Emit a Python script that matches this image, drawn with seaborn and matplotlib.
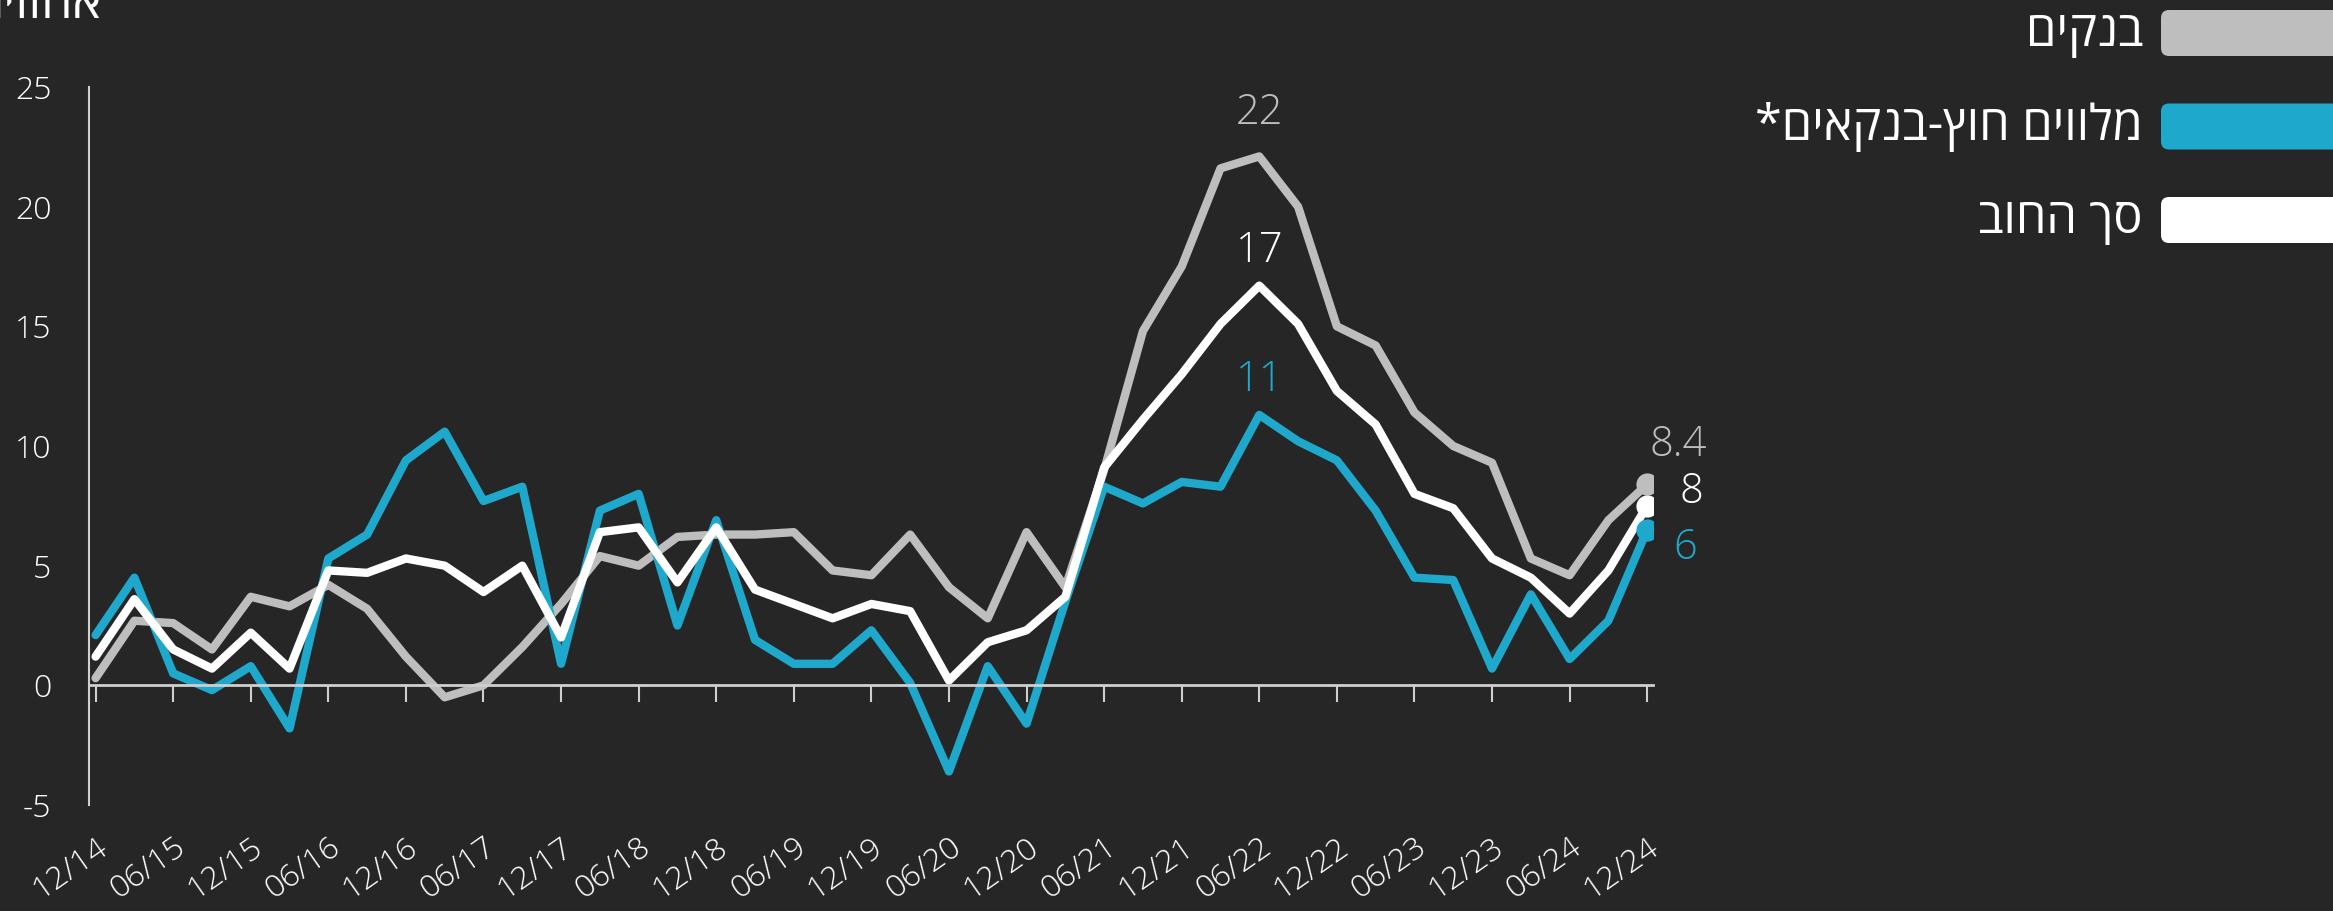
import matplotlib.pyplot as plt
import seaborn as sns
import pandas as pd
from matplotlib.patches import FancyBboxPatch
from matplotlib.transforms import IdentityTransform

# quarterly growth, percent, 12/14 .. 12/24
quarters = ["12/14", "03/15", "06/15", "09/15", "12/15", "03/16", "06/16", "09/16",
            "12/16", "03/17", "06/17", "09/17", "12/17", "03/18", "06/18", "09/18",
            "12/18", "03/19", "06/19", "09/19", "12/19", "03/20", "06/20", "09/20",
            "12/20", "03/21", "06/21", "09/21", "12/21", "03/22", "06/22", "09/22",
            "12/22", "03/23", "06/23", "09/23", "12/23", "03/24", "06/24", "09/24",
            "12/24"]

banks = [0.3, 2.7, 2.6, 1.5, 3.7, 3.3, 4.2, 3.2, 1.2, -0.5, 0.0, 1.6, 3.4, 5.4,
         5.0, 6.2, 6.3, 6.3, 6.4, 4.8, 4.6, 6.3, 4.1, 2.8, 6.4, 4.1, 9.0, 14.8,
         17.5, 21.6, 22.1, 20.0, 15.0, 14.2, 11.4, 10.0, 9.3, 5.3, 4.6, 6.9, 8.4]

nonbank = [2.1, 4.5, 0.5, -0.2, 0.8, -1.8, 5.3, 6.3, 9.4, 10.6, 7.7, 8.3, 0.9, 7.3,
           8.0, 2.5, 6.9, 1.9, 0.9, 0.9, 2.3, 0.1, -3.6, 0.8, -1.6, 3.5, 8.3, 7.6,
           8.5, 8.3, 11.3, 10.2, 9.4, 7.3, 4.5, 4.4, 0.7, 3.8, 1.1, 2.7, 6.5]

total = [1.2, 3.6, 1.5, 0.7, 2.2, 0.7, 4.8, 4.7, 5.3, 5.0, 3.9, 5.0, 2.0, 6.4,
         6.6, 4.3, 6.6, 4.0, 3.4, 2.8, 3.4, 3.1, 0.2, 1.8, 2.3, 3.7, 9.1, 11.1,
         13.0, 15.1, 16.7, 15.1, 12.3, 10.9, 8.0, 7.4, 5.3, 4.5, 3.0, 4.8, 7.5]

series_names = ["בנקים", "מלווים חוץ-בנקאים*", "סך החוב"]
peak_labels = ["22", "11", "17"]
end_labels = ["8.4", "6", "8"]
y_title = "אחוזים"
yticks = [-5, 0, 5, 10, 15, 20, 25]

BG = "#262626"
GREY = "#BEBEBE"
BLUE = "#1EA8CC"
WHITE = "#FFFFFF"
AXIS = "#CFCFCF"


def rtl(s):
    # matplotlib has no bidi support, so flip hebrew to visual order
    return s[::-1]


sns.set_theme(style="dark", rc={"axes.facecolor": BG, "figure.facecolor": BG})
plt.rcParams["font.family"] = ["Open Sans", "DejaVu Sans"]

W, H = 2333, 911
fig = plt.figure(figsize=(W / 100, H / 100), dpi=100, facecolor=BG)
ax = fig.add_axes([89 / W, 1 - 805 / H, (1653 - 89) / W, (805 - 87) / H])
ax.set_facecolor(BG)

df = pd.DataFrame({"q": range(len(quarters)), "banks": banks,
                   "nonbank": nonbank, "total": total})

cols = ["banks", "nonbank", "total"]
colors = [GREY, BLUE, WHITE]
peak_off = [44, 35, 35]
end_off = [(31, 40), (38, -18), (44, 14)]

for col, c in zip(cols, colors):
    sns.lineplot(data=df, x="q", y=col, color=c, lw=6, ax=ax)
    ax.plot(df["q"].iloc[-1], df[col].iloc[-1], "o", color=c, ms=16, mew=0, zorder=5)

# numbers in the light cut, hebrew stays regular (light cut has no hebrew)
for col, c, lab, off in zip(cols, colors, peak_labels, peak_off):
    i = df[col].idxmax()
    ax.annotate(lab, (df["q"][i], df[col][i]), xytext=(0, off),
                textcoords="offset pixels", ha="center", va="center",
                fontsize=30, color=c, fontweight="light")

for col, c, lab, off in zip(cols, colors, end_labels, end_off):
    ax.annotate(lab, (df["q"].iloc[-1], df[col].iloc[-1]), xytext=off,
                textcoords="offset pixels", ha="center", va="center",
                fontsize=30, color=c, fontweight="light", annotation_clip=False)

ax.set_xlim(-0.17, len(quarters) - 1 + 0.15)
ax.set_ylim(-5, 25)
ax.set_xlabel("")
ax.set_ylabel("")

for s in ["top", "right"]:
    ax.spines[s].set_visible(False)
ax.spines["left"].set_color(AXIS)
ax.spines["left"].set_linewidth(1.5)
ax.spines["bottom"].set_position(("data", 0))
ax.spines["bottom"].set_color(AXIS)
ax.spines["bottom"].set_linewidth(2)

tick_pos = list(range(0, len(quarters), 2))
ax.set_xticks(tick_pos)
ax.set_xticklabels([])
ax.tick_params(axis="x", bottom=True, length=12, width=1.5, color=AXIS, direction="out")
for p in tick_pos:
    ax.text(p, -6.1, quarters[p], rotation=35, ha="right", va="top",
            rotation_mode="anchor", fontsize=23, color="white",
            fontweight="light", clip_on=False)

ax.set_yticks(yticks)
ax.set_yticklabels([str(v) for v in yticks], fontweight="light")
ax.tick_params(axis="y", left=False, length=0, pad=27, labelsize=23, labelcolor="white")
ax.grid(False)

fig.text(103 / W, 1 - 18 / H, rtl(y_title), ha="right", va="baseline",
         fontsize=36, color="white")

# legend: rounded swatches running off the right edge
for k, (name, c) in enumerate(zip(series_names, colors)):
    yc = 33 + 93.5 * k
    box = FancyBboxPatch((2161, H - yc - 23), 240, 46,
                         boxstyle="round,pad=0,rounding_size=8",
                         transform=IdentityTransform(), facecolor=c, edgecolor="none")
    fig.add_artist(box)
    fig.text(2143 / W, 1 - yc / H, rtl(name), ha="right", va="center",
             fontsize=35, color="white")

fig.savefig("out.png", dpi=100, facecolor=BG)
